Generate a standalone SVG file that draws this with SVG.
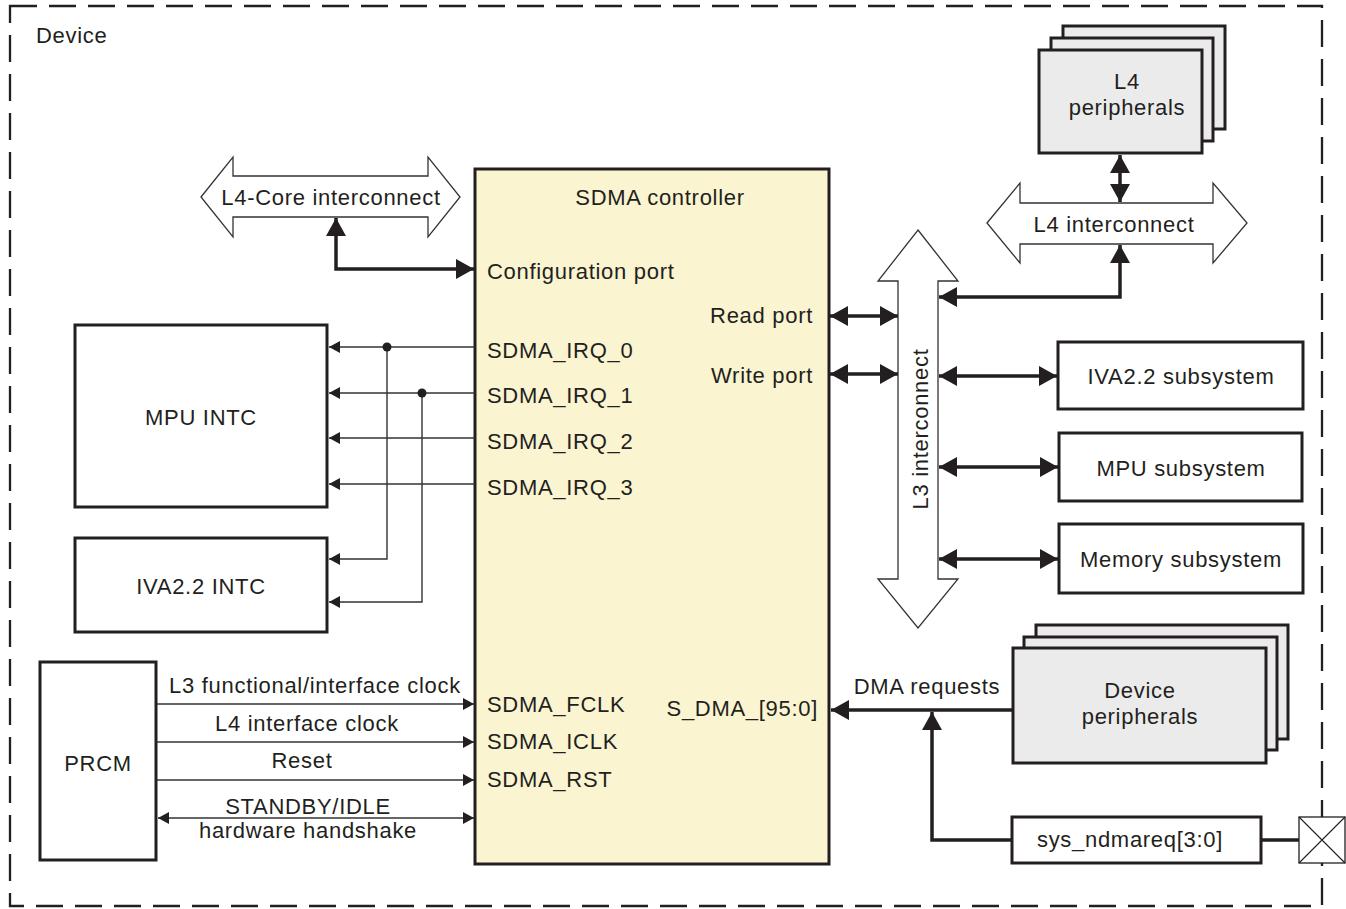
<svg xmlns="http://www.w3.org/2000/svg" width="1346" height="909" viewBox="0 0 1346 909">
<style>
text{font-family:"Liberation Sans",Arial,sans-serif;font-size:22px;letter-spacing:0.7px;fill:#231f20}
.m{text-anchor:middle}
.e{text-anchor:end}
.box{fill:#fff;stroke:#231f20;stroke-width:3}
.gray{fill:#ebebeb;stroke:#231f20;stroke-width:3}
.fat{fill:#fff;stroke:#333;stroke-width:1.3}
.thick{fill:none;stroke:#231f20;stroke-width:3.5}
.thin{fill:none;stroke:#333;stroke-width:1.4}
</style>
<defs>
<marker id="ah" markerUnits="userSpaceOnUse" markerWidth="18" markerHeight="20" refX="18" refY="10" orient="auto-start-reverse"><path d="M0,0 L18,10 L0,20 z" fill="#231f20"/></marker>
<marker id="at" markerUnits="userSpaceOnUse" markerWidth="11" markerHeight="12" refX="11" refY="6" orient="auto-start-reverse"><path d="M0,0 L11,6 L0,12 z" fill="#231f20"/></marker>
</defs>
<rect width="1346" height="909" fill="#fff"/>
<g id="device">
<rect x="10" y="6" width="1312" height="900" fill="none" stroke="#231f20" stroke-width="2.3" stroke-dasharray="27 12"/>
<text x="36" y="43">Device</text>
</g>
<g id="sdma">
<rect x="475" y="169" width="354" height="695" fill="#faf4d0" stroke="#231f20" stroke-width="3"/>
<text class="m" x="660" y="205">SDMA controller</text>
<text x="487" y="279">Configuration port</text>
<text class="e" x="813" y="323">Read port</text>
<text class="e" x="813" y="383">Write port</text>
<text x="487" y="358">SDMA_IRQ_0</text>
<text x="487" y="403">SDMA_IRQ_1</text>
<text x="487" y="449">SDMA_IRQ_2</text>
<text x="487" y="495">SDMA_IRQ_3</text>
<text x="487" y="712">SDMA_FCLK</text>
<text x="487" y="749">SDMA_ICLK</text>
<text x="487" y="787">SDMA_RST</text>
<text class="e" x="818" y="716">S_DMA_[95:0]</text>
</g>
<g id="l4core">
<polygon class="fat" points="201,197 233,157 233,176 428,176 428,157 460,197 428,237 428,217 233,217 233,237"/>
<text class="m" x="331" y="205">L4-Core interconnect</text>
</g>
<g id="l4periph">
<rect class="gray" x="1063" y="26" width="162" height="103"/>
<rect class="gray" x="1051" y="38" width="162" height="103"/>
<rect class="gray" x="1039" y="50" width="163" height="103"/>
<text class="m" x="1127" y="89">L4</text>
<text class="m" x="1127" y="115">peripherals</text>
</g>
<g id="l4ic">
<polygon class="fat" points="987,223 1020,183 1020,203 1213,203 1213,183 1247,223 1213,263 1213,244 1020,244 1020,263"/>
<text class="m" x="1114" y="232">L4 interconnect</text>
</g>
<g id="l3ic">
<polygon class="fat" points="918,230 958,281 938,281 938,579 958,579 918,628 878,579 898,579 898,281 878,281"/>
<text class="m" transform="translate(928,429) rotate(-90)">L3 interconnect</text>
</g>
<g id="iva-sub">
<rect class="box" x="1058" y="342" width="245" height="67"/>
<text class="m" x="1181" y="384">IVA2.2 subsystem</text>
</g>
<g id="mpu-sub">
<rect class="box" x="1059" y="433" width="243" height="68"/>
<text class="m" x="1181" y="476">MPU subsystem</text>
</g>
<g id="mem-sub">
<rect class="box" x="1059" y="524" width="244" height="69"/>
<text class="m" x="1181" y="567">Memory subsystem</text>
</g>
<g id="mpu-intc">
<rect class="box" x="75" y="325" width="252" height="182"/>
<text class="m" x="201" y="425">MPU INTC</text>
</g>
<g id="iva-intc">
<rect class="box" x="75" y="538" width="252" height="94"/>
<text class="m" x="201" y="594">IVA2.2 INTC</text>
</g>
<g id="prcm">
<rect class="box" x="40" y="662" width="116" height="198"/>
<text class="m" x="98" y="771">PRCM</text>
</g>
<g id="devperiph">
<rect class="gray" x="1036" y="625" width="252" height="114"/>
<rect class="gray" x="1024" y="637" width="253" height="113"/>
<rect class="gray" x="1013" y="648" width="253" height="115"/>
<text class="m" x="1140" y="698">Device</text>
<text class="m" x="1140" y="724">peripherals</text>
</g>
<g id="sysreq">
<rect class="box" x="1012" y="817" width="249" height="46"/>
<text class="m" x="1130" y="847">sys_ndmareq[3:0]</text>
</g>
<g id="pad">
<rect x="1299" y="817" width="46" height="46" fill="#fff" stroke="#231f20" stroke-width="1.3"/>
<path d="M1299,817 L1345,863 M1345,817 L1299,863" stroke="#231f20" stroke-width="1.1" fill="none"/>
</g>
<g id="connectors">
<path class="thick" d="M336,218 V269 H474" marker-start="url(#ah)" marker-end="url(#ah)"/>
<path class="thick" d="M1120,155 V202" marker-start="url(#ah)" marker-end="url(#ah)"/>
<path class="thick" d="M939,297 H1120 V245" marker-start="url(#ah)" marker-end="url(#ah)"/>
<path class="thick" d="M830,316 H898" marker-start="url(#ah)" marker-end="url(#ah)"/>
<path class="thick" d="M830,374 H898" marker-start="url(#ah)" marker-end="url(#ah)"/>
<path class="thick" d="M939,376 H1057" marker-start="url(#ah)" marker-end="url(#ah)"/>
<path class="thick" d="M939,467 H1058" marker-start="url(#ah)" marker-end="url(#ah)"/>
<path class="thick" d="M939,559 H1058" marker-start="url(#ah)" marker-end="url(#ah)"/>
<path class="thick" d="M1012,710 H831" marker-end="url(#ah)"/>
<path class="thick" d="M1012,840 H932 V712" marker-end="url(#ah)"/>
<path class="thick" d="M1261,840 H1299"/>
<text class="m" x="927" y="694">DMA requests</text>
<path class="thin" d="M475,347 H329" marker-end="url(#at)"/>
<path class="thin" d="M475,393 H329" marker-end="url(#at)"/>
<path class="thin" d="M475,438 H329" marker-end="url(#at)"/>
<path class="thin" d="M475,484 H329" marker-end="url(#at)"/>
<path class="thin" d="M387,347 V559 H329" marker-end="url(#at)"/>
<path class="thin" d="M422,393 V602 H329" marker-end="url(#at)"/>
<circle cx="387" cy="347" r="4.5" fill="#231f20"/>
<circle cx="422" cy="393" r="4.5" fill="#231f20"/>
<path class="thin" d="M157,704 H474" marker-end="url(#at)"/>
<path class="thin" d="M157,742 H474" marker-end="url(#at)"/>
<path class="thin" d="M157,780 H474" marker-end="url(#at)"/>
<path class="thin" d="M158,818 H474" marker-start="url(#at)" marker-end="url(#at)"/>
<text class="m" x="315" y="693">L3 functional/interface clock</text>
<text class="m" x="307" y="731">L4 interface clock</text>
<text class="m" x="302" y="768">Reset</text>
<text class="m" x="308" y="814">STANDBY/IDLE</text>
<text class="m" x="308" y="838">hardware handshake</text>
</g>
</svg>
